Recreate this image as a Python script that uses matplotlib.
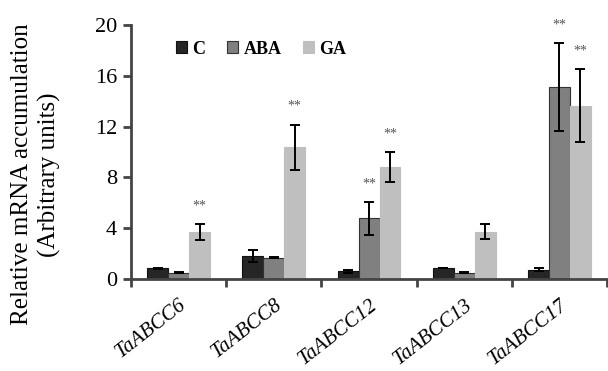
import matplotlib
matplotlib.use("Agg")
import matplotlib.pyplot as plt
import numpy as np

genes = ["TaABCC6", "TaABCC8", "TaABCC12", "TaABCC13", "TaABCC17"]
series = ["C", "ABA", "GA"]
c_vals = [0.84, 1.8, 0.62, 0.86, 0.74]
c_err = [0.03, 0.47, 0.12, 0.03, 0.12]
aba_vals = [0.5, 1.67, 4.78, 0.5, 15.1]
aba_err = [0.05, 0.05, 1.3, 0.05, 3.45]
ga_vals = [3.7, 10.35, 8.8, 3.72, 13.65]
ga_err = [0.6, 1.8, 1.2, 0.6, 2.85]
# significance marks ("**") per series/gene
c_sig = [False, False, False, False, False]
aba_sig = [False, False, True, False, True]
ga_sig = [True, True, True, False, True]
yticks = [0, 4, 8, 12, 16, 20]

plt.rcParams["font.family"] = ["Liberation Serif", "DejaVu Serif"]

fig = plt.figure(figsize=(6.08, 3.71), dpi=100)
ax = fig.add_axes([0.2155, 0.248, 0.783, 0.685])

x = np.arange(len(genes))
w = 0.22
colors = ["#262626", "#808080", "#bfbfbf"]
edges = ["#111111", "#333333", "#bfbfbf"]
vals = [c_vals, aba_vals, ga_vals]
errs = [c_err, aba_err, ga_err]
sigs = [c_sig, aba_sig, ga_sig]
for i, (v, e, s) in enumerate(zip(vals, errs, sigs)):
    pos = x + (i - 1) * w
    ax.bar(pos, v, w, color=colors[i], edgecolor=edges[i], linewidth=0.8,
           label=series[i], zorder=2)
    ax.errorbar(pos, v, yerr=e, fmt="none", ecolor="black", elinewidth=1.4,
                capsize=3.5, capthick=1.4, zorder=3)
    for p, vv, ee, ss in zip(pos, v, e, s):
        if ss:
            ax.text(p, vv + ee + 1.15, "**", ha="center", va="baseline",
                    fontsize=10, color="#555555")

ax.set_xlim(-0.5, len(genes) - 0.5)
ax.set_ylim(0, 20)
ax.set_yticks(yticks)
ax.set_yticklabels([str(t) for t in yticks], fontsize=16)
ax.set_xticks(x)
ax.set_xticklabels(genes, fontsize=15, style="italic", rotation=38,
                   ha="right", rotation_mode="anchor")
ax.set_xticks(np.arange(len(genes) + 1) - 0.5, minor=True)
ax.tick_params(axis="x", which="major", length=0, pad=12)
ax.tick_params(axis="x", which="minor", length=6, width=2, color="#444444")
ax.tick_params(axis="y", length=6, width=2, color="#444444", pad=4)
for lab in ax.get_xticklabels():
    lab.set_x(lab.get_position()[0])

for side in ["top", "right"]:
    ax.spines[side].set_visible(False)
for side in ["left", "bottom"]:
    ax.spines[side].set_linewidth(2)
    ax.spines[side].set_color("#444444")

fig.text(0.036, 0.53, "Relative mRNA accumulation", rotation=90,
         ha="center", va="center", fontsize=18)
fig.text(0.082, 0.53, "(Arbitrary units)", rotation=90,
         ha="center", va="center", fontsize=18)

leg = ax.legend(loc="upper left", bbox_to_anchor=(0.275, 0.915),
                bbox_transform=fig.transFigure, ncol=3, frameon=False,
                fontsize=13, handlelength=0.6, handleheight=0.6,
                handletextpad=0.3, columnspacing=1.2, borderpad=0)
for t in leg.get_texts():
    t.set_fontweight("bold")

fig.savefig("out.png", dpi=100)
